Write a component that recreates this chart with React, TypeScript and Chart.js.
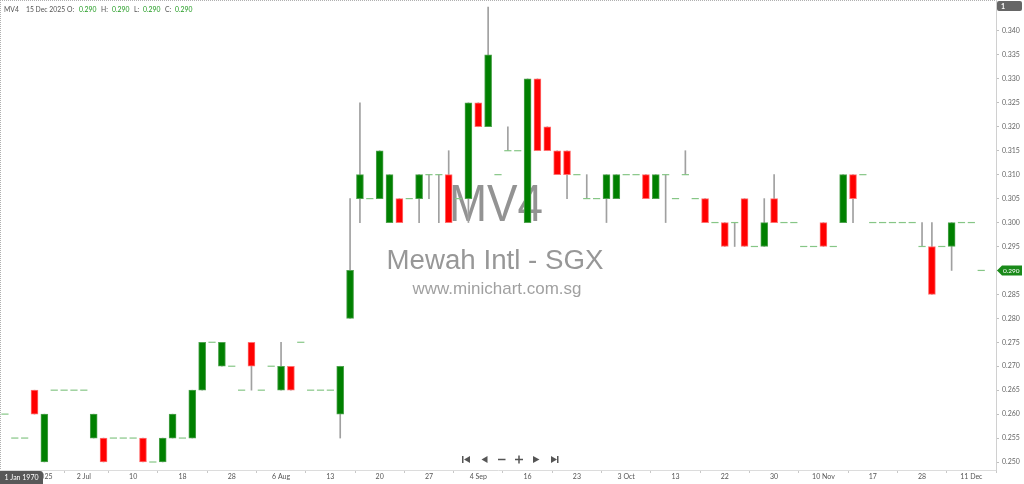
import React, { useEffect, useRef } from "react";
import { Chart, registerables } from "chart.js";

Chart.register(...registerables);

const symbol = "MV4";
const lastDate = "15 Dec 2025";
const companyName = "Mewah Intl - SGX";
const siteName = "www.minichart.com.sg";

const opens = [
  0.260, 0.255, 0.255, 0.265, 0.250, 0.265, 0.265, 0.265, 0.265, 0.255,
  0.255, 0.255, 0.255, 0.255, 0.255, 0.250, 0.250, 0.255, 0.255, 0.255,
  0.265, 0.275, 0.270, 0.270, 0.265, 0.275, 0.265, 0.270, 0.265, 0.270,
  0.275, 0.265, 0.265, 0.265, 0.260, 0.280, 0.305, 0.305, 0.305, 0.300,
  0.305, 0.305, 0.305, 0.310, 0.310, 0.310, 0.305, 0.305, 0.325, 0.320,
  0.310, 0.315, 0.315, 0.300, 0.330, 0.320, 0.315, 0.315, 0.310, 0.305,
  0.305, 0.305, 0.305, 0.310, 0.310, 0.310, 0.305, 0.310, 0.305, 0.310,
  0.305, 0.305, 0.300, 0.300, 0.300, 0.305, 0.295, 0.295, 0.305, 0.300,
  0.300, 0.295, 0.295, 0.300, 0.295, 0.300, 0.310, 0.310, 0.300, 0.300,
  0.300, 0.300, 0.300, 0.295, 0.295, 0.295, 0.295, 0.300, 0.300, 0.290,
];
const highs = [
  0.260, 0.255, 0.255, 0.265, 0.260, 0.265, 0.265, 0.265, 0.265, 0.260,
  0.255, 0.255, 0.255, 0.255, 0.255, 0.250, 0.255, 0.260, 0.255, 0.265,
  0.275, 0.275, 0.275, 0.270, 0.265, 0.275, 0.265, 0.270, 0.275, 0.270,
  0.275, 0.265, 0.265, 0.265, 0.270, 0.305, 0.325, 0.305, 0.315, 0.310,
  0.305, 0.305, 0.310, 0.310, 0.310, 0.315, 0.305, 0.325, 0.325, 0.345,
  0.310, 0.320, 0.315, 0.330, 0.330, 0.320, 0.315, 0.315, 0.310, 0.310,
  0.305, 0.310, 0.310, 0.310, 0.310, 0.310, 0.310, 0.310, 0.305, 0.315,
  0.305, 0.305, 0.300, 0.300, 0.300, 0.305, 0.295, 0.305, 0.310, 0.300,
  0.300, 0.295, 0.295, 0.300, 0.295, 0.310, 0.310, 0.310, 0.300, 0.300,
  0.300, 0.300, 0.300, 0.300, 0.300, 0.295, 0.300, 0.300, 0.300, 0.290,
];
const lows = [
  0.260, 0.255, 0.255, 0.260, 0.250, 0.265, 0.265, 0.265, 0.265, 0.255,
  0.250, 0.255, 0.255, 0.255, 0.250, 0.250, 0.250, 0.255, 0.255, 0.255,
  0.265, 0.275, 0.270, 0.270, 0.265, 0.265, 0.265, 0.270, 0.265, 0.265,
  0.275, 0.265, 0.265, 0.265, 0.255, 0.280, 0.300, 0.305, 0.305, 0.300,
  0.300, 0.305, 0.300, 0.305, 0.300, 0.300, 0.305, 0.300, 0.320, 0.320,
  0.310, 0.315, 0.315, 0.300, 0.315, 0.315, 0.310, 0.305, 0.310, 0.305,
  0.305, 0.300, 0.305, 0.310, 0.310, 0.305, 0.305, 0.300, 0.305, 0.310,
  0.305, 0.300, 0.300, 0.295, 0.295, 0.295, 0.295, 0.295, 0.300, 0.300,
  0.300, 0.295, 0.295, 0.295, 0.295, 0.300, 0.300, 0.310, 0.300, 0.300,
  0.300, 0.300, 0.300, 0.295, 0.285, 0.295, 0.290, 0.300, 0.300, 0.290,
];
const closes = [
  0.260, 0.255, 0.255, 0.260, 0.260, 0.265, 0.265, 0.265, 0.265, 0.260,
  0.250, 0.255, 0.255, 0.255, 0.250, 0.250, 0.255, 0.260, 0.255, 0.265,
  0.275, 0.275, 0.275, 0.270, 0.265, 0.270, 0.265, 0.270, 0.270, 0.265,
  0.275, 0.265, 0.265, 0.265, 0.270, 0.290, 0.310, 0.305, 0.315, 0.310,
  0.300, 0.305, 0.310, 0.310, 0.310, 0.300, 0.305, 0.325, 0.320, 0.335,
  0.310, 0.315, 0.315, 0.330, 0.315, 0.315, 0.310, 0.310, 0.310, 0.305,
  0.305, 0.310, 0.310, 0.310, 0.310, 0.305, 0.310, 0.310, 0.305, 0.310,
  0.305, 0.300, 0.300, 0.295, 0.300, 0.295, 0.295, 0.300, 0.300, 0.300,
  0.300, 0.295, 0.295, 0.295, 0.295, 0.310, 0.305, 0.310, 0.300, 0.300,
  0.300, 0.300, 0.300, 0.295, 0.285, 0.295, 0.300, 0.300, 0.300, 0.290,
];

const tickIndices = [4, 8, 13, 18, 23, 28, 33, 38, 43, 48, 53, 58, 63, 68, 73, 78, 83, 88, 93, 98];
const tickLabels = ["2025", "2 Jul", "10", "18", "28", "6 Aug", "13", "20", "27", "4 Sep", "16", "23", "3 Oct", "13", "22", "30", "10 Nov", "17", "28", "11 Dec"];
const yTicks = [0.250, 0.255, 0.260, 0.265, 0.270, 0.275, 0.280, 0.285, 0.290, 0.295, 0.300, 0.305, 0.310, 0.315, 0.320, 0.325, 0.330, 0.335, 0.340];

const GREEN = "#008000";
const RED = "#ff0000";
const FONT = "Lato, 'Open Sans', sans-serif";
const WM_FONT = "'Liberation Sans', Arial, sans-serif";

export default function App() {
  const ref = useRef<HTMLCanvasElement>(null);

  useEffect(() => {
    const canvas = ref.current;
    if (!canvas) return;
    const idx = opens.map((_, i) => i);
    const bodyIdx = idx.filter((i) => opens[i] !== closes[i]);
    const dojiIdx = idx.filter((i) => opens[i] === closes[i]);
    const wickIdx = idx.filter((i) => highs[i] > lows[i]);
    const last = closes.length - 1;

    const fitText = (ctx: CanvasRenderingContext2D, text: string, cx: number, baseline: number, font: string, targetW: number, color: string) => {
      ctx.save();
      ctx.font = font;
      const w = ctx.measureText(text).width;
      const sx = targetW / w;
      ctx.translate(cx, baseline);
      ctx.scale(sx, 1);
      ctx.fillStyle = color;
      ctx.textAlign = "center";
      ctx.textBaseline = "alphabetic";
      ctx.fillText(text, 0, 0);
      ctx.restore();
    };

    const overlay = {
      id: "overlay",
      beforeDatasetsDraw(chart: any) {
        const ctx: CanvasRenderingContext2D = chart.ctx;
        fitText(ctx, symbol, 496, 221, `51px ${WM_FONT}`, 94, "rgba(128,128,128,0.85)");
        fitText(ctx, companyName, 495, 269, `27px ${WM_FONT}`, 217, "rgba(140,140,140,0.9)");
        fitText(ctx, siteName, 497, 294, `17px ${WM_FONT}`, 169, "rgba(150,150,150,0.9)");
      },
      afterDraw(chart: any) {
        const ctx: CanvasRenderingContext2D = chart.ctx;
        const area = chart.chartArea;
        const yScale = chart.scales.y;
        ctx.save();
        // dotted top & left borders
        ctx.strokeStyle = "#b0b0b0";
        ctx.lineWidth = 1;
        ctx.setLineDash([1, 1]);
        ctx.beginPath();
        ctx.moveTo(area.left, 0.5);
        ctx.lineTo(area.right, 0.5);
        ctx.moveTo(0.5, area.top);
        ctx.lineTo(0.5, area.bottom);
        ctx.stroke();
        ctx.setLineDash([]);

        // header
        ctx.font = `6.8px ${FONT}`;
        ctx.textBaseline = "middle";
        ctx.textAlign = "left";
        const v = closes[last].toFixed(3);
        const hy = 9.5;
        ctx.fillStyle = "#555";
        ctx.fillText(symbol, 4, hy);
        ctx.fillText(lastDate, 26, hy);
        const parts: [string, number, string, number][] = [
          ["O:", 67, opens[last].toFixed(3), 79],
          ["H:", 101, highs[last].toFixed(3), 112],
          ["L:", 134, lows[last].toFixed(3), 143],
          ["C:", 165, v, 175],
        ];
        parts.forEach(([lab, lx, val, vx]) => {
          ctx.fillStyle = "#555";
          ctx.fillText(lab, lx, hy);
          ctx.fillStyle = "#1f9a1f";
          ctx.fillText(val, vx, hy);
        });

        // top-right "1" box
        ctx.fillStyle = "#666";
        ctx.beginPath();
        ctx.roundRect(997, 1, 25, 10, 2);
        ctx.fill();
        ctx.fillStyle = "#fff";
        ctx.font = `bold 7px ${FONT}`;
        ctx.fillText("1", 1001, 6.5);

        // last price label
        const py = yScale.getPixelForValue(closes[last]);
        ctx.fillStyle = "#1a8a1a";
        ctx.beginPath();
        ctx.moveTo(997, py);
        ctx.lineTo(1002, py - 5);
        ctx.lineTo(1022, py - 5);
        ctx.lineTo(1022, py + 5);
        ctx.lineTo(1002, py + 5);
        ctx.closePath();
        ctx.fill();
        ctx.fillStyle = "#fff";
        ctx.font = `6.5px ${FONT}`;
        ctx.fillText(v, 1003, py + 0.5);

        // bottom-left date box
        ctx.fillStyle = "#585858";
        ctx.beginPath();
        ctx.roundRect(0, 471, 43, 13, [0, 3, 0, 0]);
        ctx.fill();
        ctx.fillStyle = "#fff";
        ctx.font = `7px ${FONT}`;
        ctx.textAlign = "center";
        ctx.fillText("1 Jan 1970", 21.5, 477.5);

        // navigation controls
        const ny = 459.5;
        ctx.fillStyle = "#555";
        ctx.fillRect(462, ny - 3.5, 1.5, 7);
        ctx.beginPath();
        ctx.moveTo(464, ny);
        ctx.lineTo(470, ny - 3.5);
        ctx.lineTo(470, ny + 3.5);
        ctx.closePath();
        ctx.fill();
        ctx.beginPath();
        ctx.moveTo(481.5, ny);
        ctx.lineTo(487.5, ny - 3.5);
        ctx.lineTo(487.5, ny + 3.5);
        ctx.closePath();
        ctx.fill();
        ctx.fillRect(498, ny - 0.75, 7.5, 1.5);
        ctx.fillRect(515, ny - 0.75, 8, 1.5);
        ctx.fillRect(518.25, ny - 4, 1.5, 8);
        ctx.beginPath();
        ctx.moveTo(533, ny - 3.5);
        ctx.lineTo(533, ny + 3.5);
        ctx.lineTo(539.5, ny);
        ctx.closePath();
        ctx.fill();
        ctx.beginPath();
        ctx.moveTo(551, ny - 3.5);
        ctx.lineTo(551, ny + 3.5);
        ctx.lineTo(557, ny);
        ctx.closePath();
        ctx.fill();
        ctx.fillRect(557, ny - 3.5, 1.5, 7);
        ctx.restore();
      },
    };

    const chart = new Chart(canvas, {
      type: "bar",
      data: {
        datasets: [
          {
            type: "bar",
            label: "body",
            order: 0,
            grouped: false,
            data: bodyIdx.map((i) => ({ x: i, y: [opens[i], closes[i]] })) as any,
            backgroundColor: bodyIdx.map((i) => (closes[i] > opens[i] ? GREEN : RED)),
            borderColor: bodyIdx.map((i) => (closes[i] > opens[i] ? "#4fa34f" : "#ff7070")),
            borderWidth: 1,
            borderSkipped: false,
            barThickness: 7,
          } as any,
          {
            type: "scatter",
            label: "doji",
            order: 1,
            data: dojiIdx.map((i) => ({ x: i, y: opens[i] })),
            pointStyle: "line",
            pointRadius: 3.6,
            pointHoverRadius: 3.6,
            borderColor: "#86c686",
            borderWidth: 1.2,
            backgroundColor: "#86c686",
          } as any,
          {
            type: "bar",
            label: "wick",
            order: 2,
            grouped: false,
            data: wickIdx.map((i) => ({ x: i, y: [lows[i], highs[i]] })) as any,
            backgroundColor: "#a0a0a0",
            borderWidth: 0,
            barThickness: 1,
          } as any,
        ],
      },
      options: {
        animation: false,
        responsive: false,
        maintainAspectRatio: false,
        events: [],
        layout: { padding: 0, autoPadding: false },
        plugins: { legend: { display: false }, tooltip: { enabled: false } },
        scales: {
          x: {
            type: "linear",
            min: -0.5,
            max: opens.length + 0.5,
            offset: false,
            afterBuildTicks: (s: any) => {
              s.ticks = tickIndices.map((v) => ({ value: v }));
            },
            afterFit: (s: any) => {
              s.height = 14;
              s.paddingLeft = 0;
              s.paddingRight = 0;
            },
            grid: { display: true, drawOnChartArea: false, drawTicks: true, tickLength: 3, color: "#c8c8c8" },
            border: { display: true, color: "#dcdcdc" },
            ticks: {
              autoSkip: false,
              maxRotation: 0,
              padding: 0,
              color: "#555",
              font: { family: FONT, size: 7 },
              callback: (val: any) => {
                const k = tickIndices.indexOf(Number(val));
                return k >= 0 ? tickLabels[k] : "";
              },
            },
          },
          y: {
            type: "linear",
            position: "right",
            min: 0.24833,
            max: 0.34647,
            afterBuildTicks: (s: any) => {
              s.ticks = yTicks.map((v) => ({ value: v }));
            },
            afterFit: (s: any) => {
              s.width = 28;
              s.paddingTop = 0;
              s.paddingBottom = 0;
            },
            grid: { display: true, drawOnChartArea: false, drawTicks: true, tickLength: 3, color: "#c0c0c0" },
            border: { display: true, color: "#d0d0d0" },
            ticks: {
              padding: 3,
              color: "#666",
              font: { family: FONT, size: 7 },
              callback: (val: any) => Number(val).toFixed(3),
            },
          },
        },
      } as any,
      plugins: [overlay as any],
    });
    return () => chart.destroy();
  }, []);

  return (
    <div style={{ position: "absolute", left: 0, top: 0, width: 1024, height: 484, background: "#fff" }}>
      <canvas ref={ref} width={1024} height={484} style={{ display: "block", width: 1024, height: 484 }} />
    </div>
  );
}
